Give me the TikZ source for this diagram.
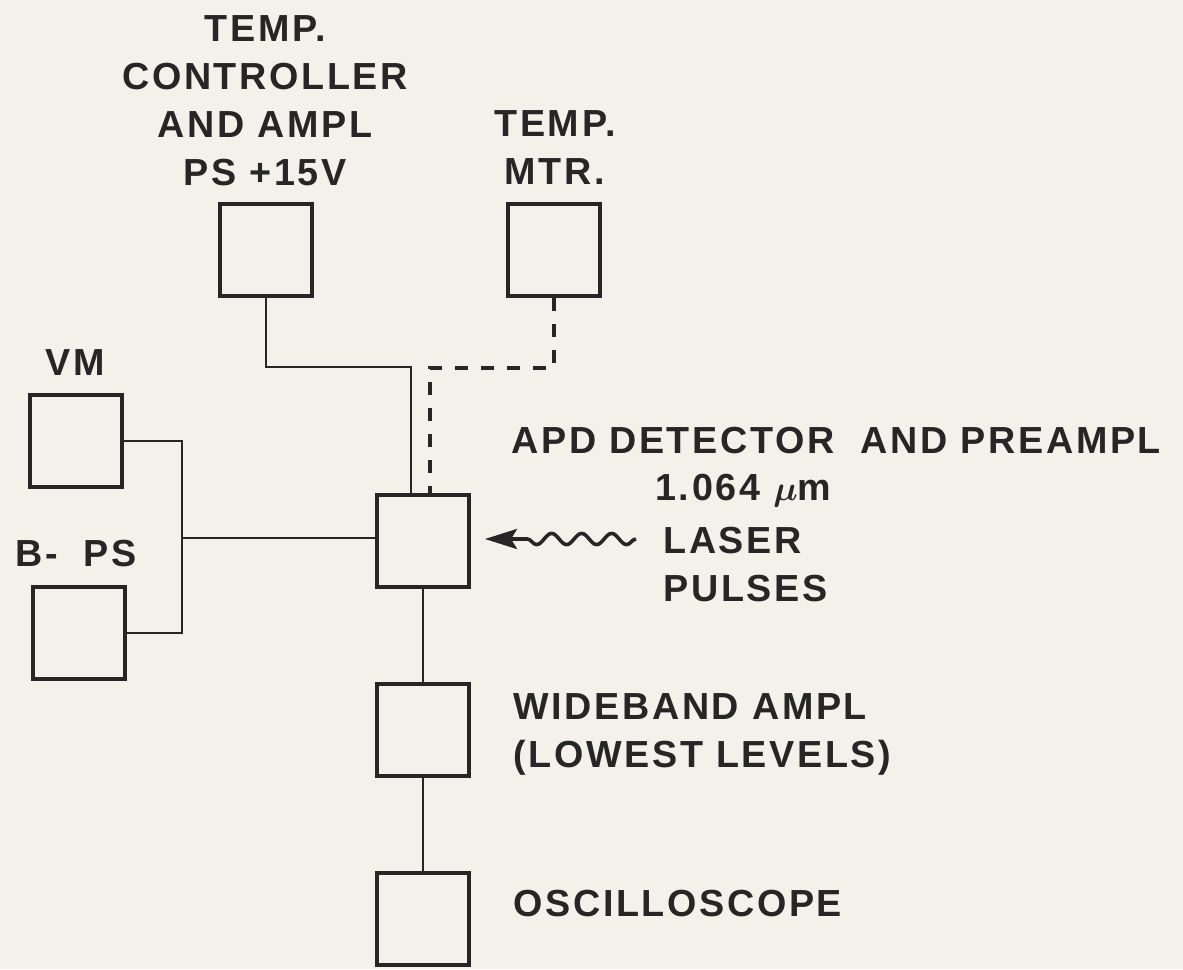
\documentclass[tikz,border=0pt]{standalone}
\usepackage{amsmath}
\usepackage{fontspec}
\setmainfont{Liberation Sans}[LetterSpace=7]
\usetikzlibrary{arrows.meta, positioning, calc, decorations.pathmorphing}
\definecolor{paper}{RGB}{243,241,233}
\definecolor{ink}{RGB}{38,38,38}

\begin{document}
\begin{tikzpicture}[
  x=0.5pt, y=-0.5pt,
  box/.style={rectangle, draw=ink, line width=2pt, minimum size=46pt, inner sep=0pt},
  wire/.style={draw=ink, line width=1.2pt},
  lbl/.style={text=ink, inner sep=0pt, font=\fontsize{18.85}{24}\selectfont\bfseries},
  laser/.style={draw=ink, line width=1.8pt, -{Stealth[length=16pt, width=10pt, inset=3pt]},
                decorate, decoration={snake, amplitude=2.8pt, segment length=15pt, post length=16pt}}
]
\fill[paper] (0,0) rectangle (1183,969);

% boxes
\node[box] (ctrl) at (266,250) {};
\node[box] (mtr)  at (554,250) {};
\node[box] (vm)   at (76,441) {};
\node[box] (bps)  at (79,633) {};
\node[box] (apd)  at (423,541) {};
\node[box] (wide) at (423,730) {};
\node[box] (osc)  at (423,919) {};

% labels
\node[lbl, align=center, anchor=north] (ctrllbl) at (265,15) {TEMP.\\CONTROLLER\\AND AMPL\\PS +15V};
\node[lbl, align=center, anchor=north] (mtrlbl) at (555,110) {TEMP.\\MTR.};
\node[lbl, anchor=north] (vmlbl) at (75,349) {VM};
\node[lbl, anchor=north] (bpslbl) at (76,540) {B-\ \ PS};
\node[lbl, anchor=north west] (apdlbl) at (511,427) {APD DETECTOR\ \ AND PREAMPL};
\node[lbl, anchor=north west] (wavelbl) at (655,474) {1.064 $\boldsymbol{\mu}$m};
\node[lbl, align=left, anchor=north west] (lsrlbl) at (663,527) {LASER\\PULSES};
\node[lbl, align=left, anchor=north west] (widelbl) at (513,693) {WIDEBAND AMPL\\(LOWEST LEVELS)};
\node[lbl, anchor=north west] (osclbl) at (513,890) {OSCILLOSCOPE};

% connectors
\coordinate (jc) at (411,367);
\coordinate (jm) at (430,368);
\coordinate (jv) at (182,538);
\coordinate (lsr) at (636,539);
\coordinate (tip) at ($(apd.east)+(14,-2)$);

\draw[wire] (ctrl.south) |- (jc) -- (jc |- apd.north);
\draw[wire, line width=1.6pt, dash pattern=on 6.5pt off 6.5pt] (mtr.south) |- (jm) -- (jm |- apd.north);
\draw[wire] (vm.east) -| (jv) |- (bps.east);
\draw[wire] (jv) -- (jv -| apd.west);
\draw[wire] (apd.south) -- (wide.north);
\draw[wire] (wide.south) -- (osc.north);
\draw[laser] (lsr) -- (tip);

\end{tikzpicture}
\end{document}
